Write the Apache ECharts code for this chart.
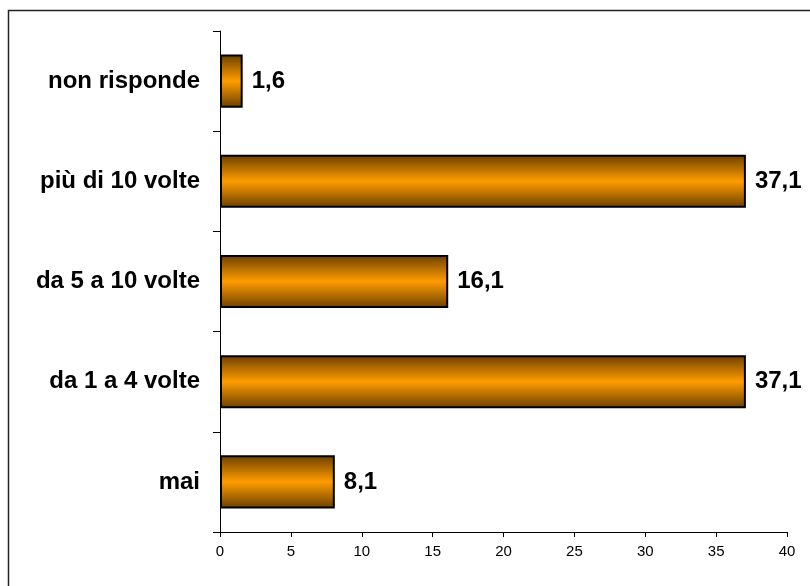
<!DOCTYPE html>
<html>
<head>
<meta charset="utf-8">
<style>
  html, body { margin: 0; padding: 0; background: #fff; }
  #chart { width: 810px; height: 586px; }
</style>
<script src="https://cdn.jsdelivr.net/npm/echarts@6/dist/echarts.min.js"></script>
</head>
<body>
<div id="chart"></div>
<script>
// Categories from bottom to top, with percentage values
const categories = ['mai', 'da 1 a 4 volte', 'da 5 a 10 volte', 'più di 10 volte', 'non risponde'];
const values = [8.1, 37.1, 16.1, 37.1, 1.6];
const xTicks = [0, 5, 10, 15, 20, 25, 30, 35, 40];

const chart = echarts.init(document.getElementById('chart'), null, { renderer: 'canvas' });

const barFill = new echarts.graphic.LinearGradient(0, 0, 0, 1, [
  { offset: 0, color: '#6a3f00' },
  { offset: 0.5, color: '#ff9c00' },
  { offset: 1, color: '#6a3f00' }
]);

chart.setOption({
  animation: false,
  backgroundColor: '#fff',
  graphic: [{
    type: 'polyline',
    shape: { points: [[8.5, 600], [8.5, 10.5], [830, 10.5]] },
    style: { stroke: '#222', lineWidth: 1.5, fill: null },
    silent: true
  }],
  grid: { left: 220, right: 23, top: 31, bottom: 54, containLabel: false },
  xAxis: {
    type: 'value',
    min: xTicks[0],
    max: xTicks[xTicks.length - 1],
    interval: 5,
    axisLine: { show: true, lineStyle: { color: '#000', width: 1 } },
    axisTick: { show: true, length: 5, lineStyle: { color: '#000' } },
    axisLabel: { color: '#000', fontSize: 15, fontFamily: 'Liberation Sans, Arial', margin: 12 },
    splitLine: { show: false }
  },
  yAxis: {
    type: 'category',
    data: categories,
    axisLine: { show: true, onZero: false, lineStyle: { color: '#000', width: 1 } },
    axisTick: { show: true, length: 7, alignWithLabel: false, lineStyle: { color: '#000' } },
    axisLabel: { color: '#000', fontSize: 24, fontWeight: 'bold', fontFamily: 'Liberation Sans, Arial', margin: 20 }
  },
  series: [{
    type: 'bar',
    data: values,
    barCategoryGap: '47%',
    itemStyle: { color: barFill, borderColor: '#000', borderWidth: 2 },
    label: {
      show: true,
      position: 'right',
      distance: 9,
      color: '#000',
      fontSize: 24,
      fontWeight: 'bold',
      fontFamily: 'Liberation Sans, Arial',
      formatter: p => String(p.value).replace('.', ',')
    }
  }]
});
</script>
</body>
</html>
